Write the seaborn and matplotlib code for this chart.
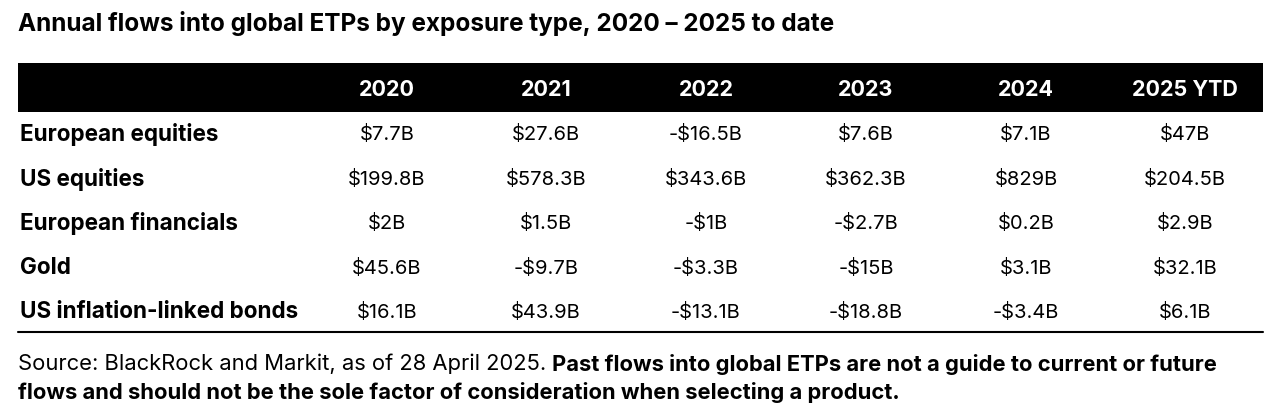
import matplotlib
matplotlib.use("Agg")
import matplotlib.pyplot as plt
import seaborn as sns

title = "Annual flows into global ETPs by exposure type, 2020 – 2025 to date"
columns = ["2020", "2021", "2022", "2023", "2024", "2025 YTD"]
rows = ["European equities", "US equities", "European financials", "Gold",
        "US inflation-linked bonds"]
values = [
    ["$7.7B", "$27.6B", "-$16.5B", "$7.6B", "$7.1B", "$47B"],
    ["$199.8B", "$578.3B", "$343.6B", "$362.3B", "$829B", "$204.5B"],
    ["$2B", "$1.5B", "-$1B", "-$2.7B", "$0.2B", "$2.9B"],
    ["$45.6B", "-$9.7B", "-$3.3B", "-$15B", "$3.1B", "$32.1B"],
    ["$16.1B", "$43.9B", "-$13.1B", "-$18.8B", "-$3.4B", "$6.1B"],
]
source = "Source: BlackRock and Markit, as of 28 April 2025. "
note1 = "Past flows into global ETPs are not a guide to current or future"
note2 = "flows and should not be the sole factor of consideration when selecting a product."

sns.set_theme(style="white")
plt.rcParams["font.family"] = ["Inter", "DejaVu Sans"]

fig = plt.figure(figsize=(12.8, 4.11), dpi=100)
ax = fig.add_axes([0, 0, 1, 1])
ax.set_xlim(0, 1280)
ax.set_ylim(411, 0)
ax.axis("off")

ax.text(18, 23, title, fontsize=17.5, fontweight="bold", va="center", color="black")

# header band
ax.add_patch(plt.Rectangle((18, 63), 1245, 49, color="black", lw=0))
col_x = [387, 546, 706, 866, 1026, 1185]
for x, c in zip(col_x, columns):
    ax.text(x, 90, c, fontsize=15.5, fontweight="bold", color="white", ha="center", va="center")

row_y = [134, 179, 223, 268, 312]
for y, name, vals in zip(row_y, rows, values):
    ax.text(20, y, name, fontsize=16.2, fontweight="bold", va="center", color="black")
    for x, v in zip(col_x, vals):
        ax.text(x, y, v, fontsize=14.5, ha="center", va="center", color="black")

ax.plot([18, 1263], [332, 332], color="black", lw=1.5)

t = ax.text(18, 364, source, fontsize=15.8, va="center", color="black")
fig.canvas.draw()
x_end = ax.transData.inverted().transform((t.get_window_extent().x1, 0))[0]
ax.text(x_end, 364, note1, fontsize=15.8, fontweight="bold", va="center", color="black")
ax.text(18, 392, note2, fontsize=15.8, fontweight="bold", va="center", color="black")

fig.savefig("out.png", dpi=100)
